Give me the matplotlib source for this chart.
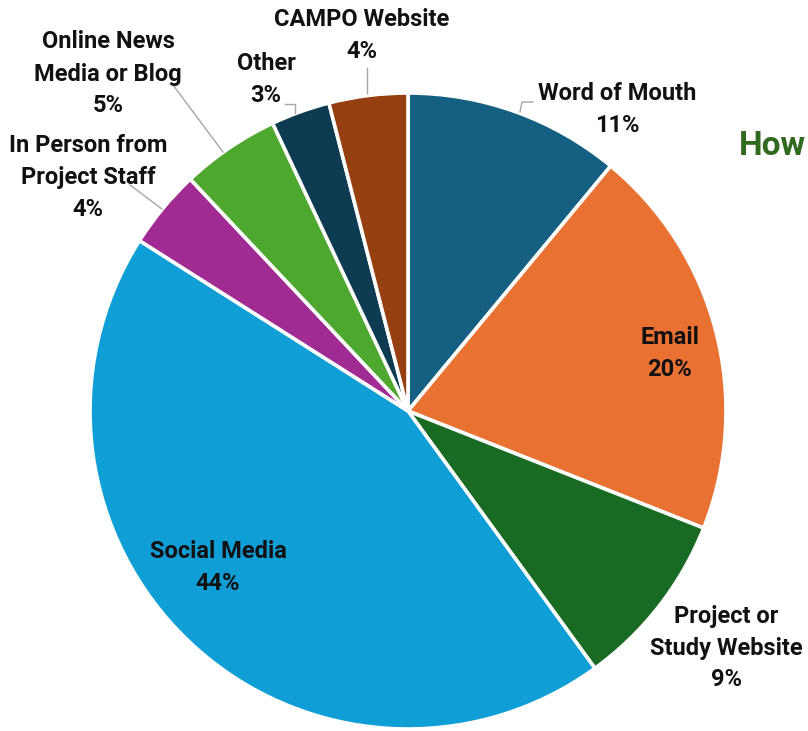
import matplotlib.pyplot as plt

# survey answers, clockwise from 12 o'clock
sources = ["Word of Mouth", "Email", "Project or\nStudy Website", "Social Media",
           "In Person from\nProject Staff", "Online News\nMedia or Blog", "Other", "CAMPO Website"]
shares = [11, 20, 9, 44, 4, 5, 3, 4]
colors = ["#156082", "#E97132", "#196B24", "#0F9ED5",
          "#A02B93", "#4EA72E", "#0E3A52", "#963F11"]

W, H = 808, 731
CX, CY, R = 408, 411, 318


def px(x, y):
    # pixel position in the picture -> data coords (pie radius = 1)
    return (x - CX) / R, (CY - y) / R


fig = plt.figure(figsize=(W / 100, H / 100), dpi=100)
ax = fig.add_axes([0, 0, 1, 1])
ax.pie(shares, colors=colors, startangle=90, counterclock=False, radius=1,
       wedgeprops=dict(edgecolor="white", linewidth=2.6))
ax.set_aspect("auto")
ax.set_xlim(px(0, 0)[0], px(W, 0)[0])
ax.set_ylim(px(0, H)[1], px(0, 0)[1])
ax.axis("off")

# label block centres (pixels)
label_pos = [(617, 109), (670, 353), (726, 648), (218, 567),
             (88, 177), (108, 74), (266, 80), (362, 35)]

font = dict(family=["Roboto", "DejaVu Sans"], fontweight="bold", fontsize=17,
            color="#111111", ha="center", va="center", linespacing=1.5)
for name, val, (x, y) in zip(sources, shares, label_pos):
    ax.text(*px(x, y), f"{name}\n{val}%", **font)

# leader lines
leaders = [
    [(520, 112), (522, 102), (533, 102)],
    [(295, 113), (295, 104), (285, 104)],
    [(367, 93), (367, 68)],
    [(223, 152), (173, 85)],
    [(162, 209), (130, 185)],
]
for pts in leaders:
    xs, ys = zip(*[px(x, y) for x, y in pts])
    ax.plot(xs, ys, color="#A6A6A6", linewidth=1)

# title is cut off at the right edge in the original
ax.text(*px(739, 146), "How", family=["Roboto", "DejaVu Sans"], fontweight="bold",
        fontsize=24, color="#2F6A1F", ha="left", va="center")

fig.savefig("out.png", dpi=100)
